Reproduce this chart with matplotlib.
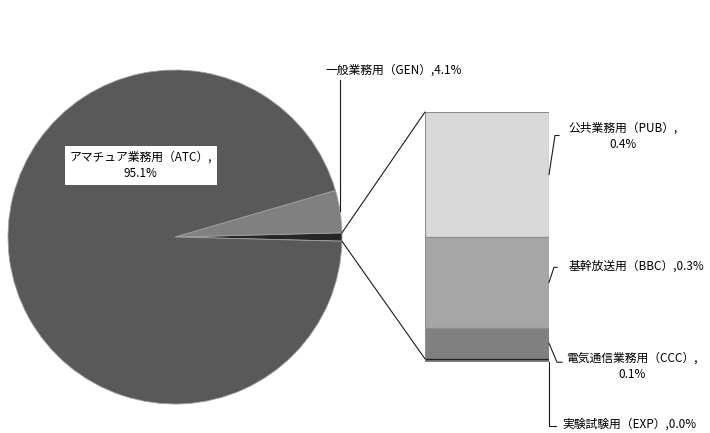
import numpy as np
import matplotlib
matplotlib.use("Agg")
import matplotlib.pyplot as plt
from matplotlib.lines import Line2D
from matplotlib.patches import ConnectionPatch
from matplotlib.transforms import IdentityTransform

plt.rcParams["font.family"] = ["Noto Sans CJK JP", "DejaVu Sans"]

# pie: "other" first so it sits at 3 o'clock
pie_names = ["その他", "一般業務用（GEN）", "アマチュア業務用（ATC）"]
pie_values = [0.8, 4.1, 95.1]
pie_pct = ["0.8%", "4.1%", "95.1%"]
pie_colors = ["#262626", "#808080", "#595959"]

# bar of "other", listed top to bottom
bar_names = ["公共業務用（PUB）", "基幹放送用（BBC）", "電気通信業務用（CCC）", "実験試験用（EXP）"]
bar_values = [0.40, 0.29, 0.10, 0.01]
bar_pct = ["0.4%", "0.3%", "0.1%", "0.0%"]
bar_colors = ["#d9d9d9", "#a6a6a6", "#808080", "#808080"]

W, H = 710, 433
FS = 8.5
LC = "#1a1a1a"

fig = plt.figure(figsize=(W / 100, H / 100), dpi=100)

# pie
ax_pie = fig.add_axes([8 / W, (H - 237 - 167) / H, 334 / W, 334 / H])
start = -pie_values[0] / sum(pie_values) * 360 / 2
wedges, _ = ax_pie.pie(pie_values, colors=pie_colors, startangle=start, counterclock=True,
                       wedgeprops=dict(edgecolor="#a0a0a0", linewidth=0.6))
for w in wedges:
    w.set_clip_on(False)
ax_pie.set_xlim(-1, 1); ax_pie.set_ylim(-1, 1); ax_pie.axis("off")

# stacked bar
ax_bar = fig.add_axes([425 / W, (H - 362) / H, 124 / W, 250 / H])
total = sum(bar_values)
tops = total - np.concatenate([[0], np.cumsum(bar_values)[:-1]])
bottoms = tops - np.array(bar_values)
ax_bar.bar(np.zeros(len(bar_values)), bar_values, bottom=bottoms, width=1,
           color=bar_colors, edgecolor="#8c8c8c", linewidth=0.8)
ax_bar.hlines(tops[-1], -0.5, 0.5, color="#262626", lw=1)
ax_bar.set_xlim(-0.5, 0.5); ax_bar.set_ylim(0, total); ax_bar.axis("off")

# connectors pie -> bar
w0 = wedges[0]
for ang, yb in ((w0.theta2, total), (w0.theta1, tops[-1])):
    t = np.deg2rad(ang)
    con = ConnectionPatch(xyA=(w0.r * np.cos(t), w0.r * np.sin(t)), coordsA=ax_pie.transData,
                          xyB=(-0.5, yb), coordsB=ax_bar.transData, color=LC, lw=0.8)
    fig.add_artist(con)


def leader(anchor, pts):
    x0, y0 = anchor
    fig.add_artist(Line2D([x0] + [x0 + dx for dx, _ in pts], [y0] + [y0 + dy for _, dy in pts],
                          transform=IdentityTransform(), color=LC, lw=0.8))


def label(anchor, dx, dy, s):
    fig.text(anchor[0] + dx, anchor[1] + dy, s, transform=IdentityTransform(), ha="left",
             va="center", multialignment="center", fontsize=FS, linespacing=1.4)


# ATC label inside the pie
ax_pie.text(-0.204, 0.43, f"{pie_names[2]},\n{pie_pct[2]}", ha="center", va="center",
            fontsize=FS, linespacing=1.35,
            bbox=dict(boxstyle="square,pad=0.4", fc="white", ec="none"))

# GEN label, leader from wedge edge straight up
w1 = wedges[1]
tm = np.deg2rad((w1.theta1 + w1.theta2) / 2)
a = ax_pie.transData.transform((w1.r * np.cos(tm), w1.r * np.sin(tm)))
leader(a, [(0, 131)])
label(a, -15, 141, f"{pie_names[1]},{pie_pct[1]}")

# bar labels
mids = (tops + bottoms) / 2
a = ax_bar.transData.transform((0.5, mids[0]))
leader(a, [(6, 39), (10, 39)])
label(a, 19, 38, f"{bar_names[0]},\n{bar_pct[0]}")

a = ax_bar.transData.transform((0.5, mids[1]))
leader(a, [(5, 15), (8, 15)])
label(a, 20, 16, f"{bar_names[1]},{bar_pct[1]}")

a = ax_bar.transData.transform((0.5, mids[2]))
leader(a, [(8, -19), (13, -19)])
label(a, 17, -23, f"{bar_names[2]},\n{bar_pct[2]}")

a = ax_bar.transData.transform((0.5, 0))
leader(a, [(0, -64), (7, -64)])
label(a, 13, -62, f"{bar_names[3]},{bar_pct[3]}")

fig.savefig("out.png", dpi=100)
